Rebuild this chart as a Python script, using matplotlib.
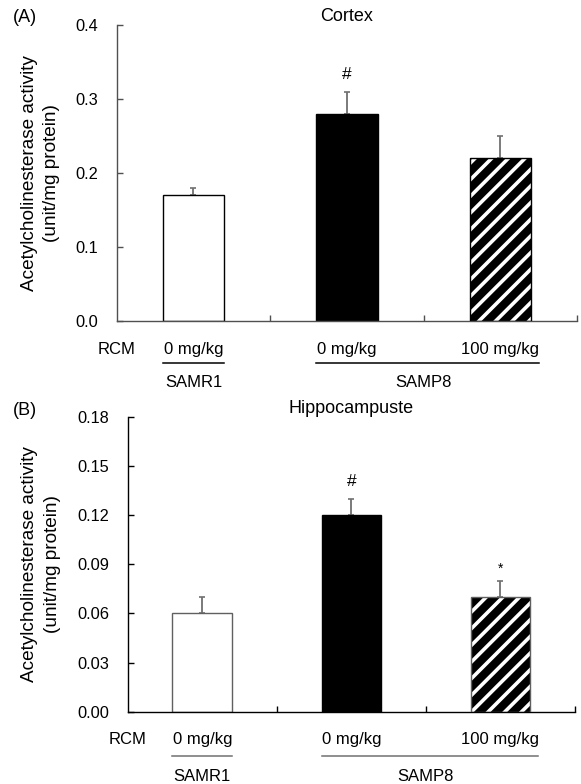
import matplotlib
matplotlib.use('Agg')
import matplotlib.pyplot as plt
import matplotlib.transforms as mtransforms

plt.rcParams['font.family'] = ['Liberation Sans', 'DejaVu Sans']
plt.rcParams['hatch.linewidth'] = 2.6

# data
groups = ['SAMR1', 'SAMP8', 'SAMP8']
doses = ['0 mg/kg', '0 mg/kg', '100 mg/kg']
cortex_vals = [0.17, 0.28, 0.22]
cortex_err = [0.01, 0.03, 0.03]
cortex_marks = ['', '#', '']
hippo_vals = [0.06, 0.12, 0.07]
hippo_err = [0.01, 0.01, 0.01]
hippo_marks = ['', '#', '*']
cortex_ticks = [0.0, 0.1, 0.2, 0.3, 0.4]
hippo_ticks = [0.0, 0.03, 0.06, 0.09, 0.12, 0.15, 0.18]

ylabel = 'Acetylcholinesterase activity\n(unit/mg protein)'
FS = 12


def draw_panel(ax, vals, errs, marks, ticks, fmt, title, ylab_x, title_pad,
               line_y, grp_y, axc, edgec, line_col):
    x = list(range(len(vals)))
    w = 0.4
    # white, black, hatched bars
    ax.bar(x[0], vals[0], w, color='white', edgecolor=edgec, linewidth=1.0, zorder=2)
    ax.bar(x[1], vals[1], w, color='black', edgecolor='black', linewidth=1.0, zorder=2)
    ax.bar(x[2], vals[2], w, color='black', edgecolor='white', hatch='//', linewidth=0, zorder=2)
    ax.bar(x[2], vals[2], w, fill=False, edgecolor=edgec, linewidth=1.0, zorder=3)
    ax.errorbar(x, vals, yerr=[[0] * len(errs), errs], fmt='none', ecolor='#707070',
                elinewidth=1.3, capsize=2.5, capthick=1.2, zorder=1)
    for i, m in enumerate(marks):
        if m == '#':
            ax.annotate(m, (x[i], vals[i] + errs[i]), xytext=(0, 12.5), textcoords='offset points',
                        ha='center', va='center', fontsize=12.5)
        elif m:
            ax.annotate(m, (x[i], vals[i] + errs[i]), xytext=(0, 6), textcoords='offset points',
                        ha='center', va='baseline', fontsize=10)

    ax.set_xlim(-0.5, len(vals) - 0.5)
    ax.set_ylim(ticks[0], ticks[-1])
    ax.set_yticks(ticks)
    ax.set_yticklabels([fmt.format(t) for t in ticks])
    ax.set_xticks([i + 0.5 for i in x])
    ax.set_xticklabels([])
    ax.tick_params(axis='y', direction='in', length=4.3, width=1.0, color=axc, labelsize=11.8, pad=13.5)
    ax.tick_params(axis='x', direction='in', length=4.3, width=1.0, color=axc)
    for s in ['top', 'right']:
        ax.spines[s].set_visible(False)
    for s in ['left', 'bottom']:
        ax.spines[s].set_color(axc)
        ax.spines[s].set_linewidth(1.0)
    ax.set_title(title, fontsize=13, pad=title_pad)
    ax.text(ylab_x, 0.5, ylabel, rotation=90, ha='center', va='center', fontsize=13.7,
            multialignment='center', linespacing=1.4, transform=ax.transAxes)

    tr = mtransforms.blended_transform_factory(ax.transData, ax.transAxes)
    ax.text(-0.5, -0.109, 'RCM', ha='center', va='baseline', fontsize=FS, transform=tr, clip_on=False)
    for i, d in enumerate(doses):
        ax.text(x[i], -0.109, d, ha='center', va='baseline', fontsize=FS, transform=tr, clip_on=False)
    ax.plot([x[0] - w / 2, x[0] + w / 2], [line_y, line_y], color=line_col, lw=1.1,
            transform=tr, clip_on=False)
    ax.plot([x[1] - w / 2, x[2] + 0.25], [line_y, line_y], color=line_col, lw=1.1,
            transform=tr, clip_on=False)
    ax.text(x[0], grp_y, groups[0], ha='center', va='baseline', fontsize=FS, transform=tr, clip_on=False)
    ax.text((x[1] + x[2]) / 2, grp_y, groups[1], ha='center', va='baseline', fontsize=FS,
            transform=tr, clip_on=False)


fig = plt.figure(figsize=(5.81, 7.84), dpi=100)
ax1 = fig.add_axes([0.2009, 0.5902, 0.7923, 0.3776])
ax2 = fig.add_axes([0.2198, 0.0922, 0.7699, 0.3759])

draw_panel(ax1, cortex_vals, cortex_err, cortex_marks, cortex_ticks, '{:.1f}', 'Cortex',
           -0.165, 1.0, -0.141, -0.221, '#505050', 'black', 'black')
draw_panel(ax2, hippo_vals, hippo_err, hippo_marks, hippo_ticks, '{:.2f}', 'Hippocampuste',
           -0.194, 1.5, -0.150, -0.236, 'black', '#606060', '#707070')

fig.text(13 / 581, 1 - 17.5 / 784, '(A)', ha='left', va='center', fontsize=13)
fig.text(13 / 581, 1 - 410.5 / 784, '(B)', ha='left', va='center', fontsize=13)

fig.savefig('out.png', dpi=100)
